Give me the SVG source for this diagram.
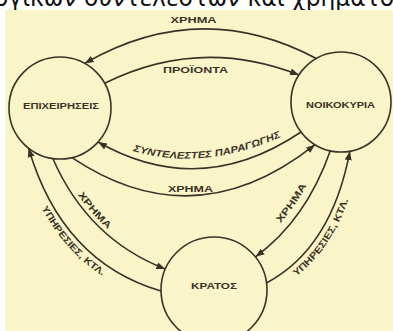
<svg xmlns="http://www.w3.org/2000/svg" xmlns:xlink="http://www.w3.org/1999/xlink" width="393" height="331" viewBox="0 0 393 331">
<style>
.node{fill:none;stroke:#3a3226;stroke-width:1.6}
.edge{fill:none;stroke:#3a3226;stroke-width:1.6}
.lbl{font-family:"Liberation Sans",Arial,sans-serif;font-weight:bold;font-size:9.5px;fill:#3a3226}
.nl{font-family:"Liberation Sans",Arial,sans-serif;font-weight:bold;font-size:8.5px;fill:#3a3226;text-anchor:middle}
.guide{fill:none;stroke:none}
</style>
<defs>
<marker id="ah" markerUnits="userSpaceOnUse" markerWidth="10" markerHeight="8" refX="9" refY="3.5" orient="auto">
<path d="M0,0 L9,3.5 L0,7 z" fill="#3a3226"/>
</marker>
<path id="tpSynt" class="guide" d="M133,151 Q205,172 285,135"/>
<path id="tpLin" class="guide" d="M56,155.3 Q91.2,235.8 168.5,265.8"/>
<path id="tpLout" class="guide" d="M20.6,156.2 Q54,270 153,299"/>
<path id="tpRin" class="guide" d="M249,252.2 Q299.4,215.4 323.7,146.2"/>
<path id="tpRout" class="guide" d="M276,289.6 Q341,255 359.3,157.8"/>
</defs>
<rect x="0" y="0" width="393" height="331" fill="#ffffff"/>
<text x="-6" y="6" font-family="DejaVu Sans, sans-serif" font-size="24" fill="#111" textLength="400" lengthAdjust="spacingAndGlyphs">ογικών συντελεστών και χρήματο</text>
<rect x="5" y="10" width="388" height="321" fill="#faf5c8"/>

<g id="connectors">
<path class="edge" d="M316.3,58.5 Q200,-3 84.7,63.4" marker-end="url(#ah)"/>
<path class="edge" d="M104.6,83.3 Q200,36 299,75" marker-end="url(#ah)"/>
<path class="edge" d="M301,132 Q200,200 98,142" marker-end="url(#ah)"/>
<path class="edge" d="M72,157.6 Q195,240 315,144.7" marker-end="url(#ah)"/>
<path class="edge" d="M161,291 Q62,262 28.6,148.2" marker-end="url(#ah)"/>
<path class="edge" d="M52.8,158.5 Q88,239 165.3,269" marker-end="url(#ah)"/>
<path class="edge" d="M330.3,150.8 Q306,220 255.5,256.8" marker-end="url(#ah)"/>
<path class="edge" d="M266.5,283 Q331.5,248.5 349.9,151.2" marker-end="url(#ah)"/>
<text class="lbl" x="193.5" y="22.5" text-anchor="middle" textLength="46" lengthAdjust="spacingAndGlyphs">ΧΡΗΜΑ</text>
<text class="lbl" x="195.5" y="73" text-anchor="middle" textLength="65" lengthAdjust="spacingAndGlyphs">ΠΡΟΪΟΝΤΑ</text>
<text class="lbl" font-style="italic" textLength="152" lengthAdjust="spacingAndGlyphs"><textPath xlink:href="#tpSynt" href="#tpSynt" startOffset="0">ΣΥΝΤΕΛΕΣΤΕΣ ΠΑΡΑΓΩΓΗΣ</textPath></text>
<text class="lbl" x="190.5" y="192" text-anchor="middle" textLength="45" lengthAdjust="spacingAndGlyphs">ΧΡΗΜΑ</text>
<text class="lbl" text-anchor="middle" textLength="46" lengthAdjust="spacingAndGlyphs"><textPath xlink:href="#tpLin" href="#tpLin" startOffset="42%">ΧΡΗΜΑ</textPath></text>
<text class="lbl" text-anchor="middle" textLength="92" lengthAdjust="spacingAndGlyphs"><textPath xlink:href="#tpLout" href="#tpLout" startOffset="50%">ΥΠΗΡΕΣΙΕΣ, ΚΤΛ.</textPath></text>
<text class="lbl" text-anchor="middle" textLength="46" lengthAdjust="spacingAndGlyphs"><textPath xlink:href="#tpRin" href="#tpRin" startOffset="50%">ΧΡΗΜΑ</textPath></text>
<text class="lbl" text-anchor="middle" textLength="94" lengthAdjust="spacingAndGlyphs"><textPath xlink:href="#tpRout" href="#tpRout" startOffset="44%">ΥΠΗΡΕΣΙΕΣ, ΚΤΛ.</textPath></text>
</g>

<g id="epixeiriseis">
<circle class="node" cx="60" cy="108" r="51"/>
<text class="nl" x="61" y="109" textLength="76" lengthAdjust="spacingAndGlyphs">ΕΠΙΧΕΙΡΗΣΕΙΣ</text>
</g>
<g id="noikokyria">
<circle class="node" cx="341" cy="102" r="50"/>
<text class="nl" x="340.5" y="108" textLength="69" lengthAdjust="spacingAndGlyphs">ΝΟΙΚΟΚΥΡΙΑ</text>
</g>
<g id="kratos">
<circle class="node" cx="214" cy="290" r="53"/>
<text class="nl" x="214" y="289" textLength="46" lengthAdjust="spacingAndGlyphs">ΚΡΑΤΟΣ</text>
</g>
</svg>
